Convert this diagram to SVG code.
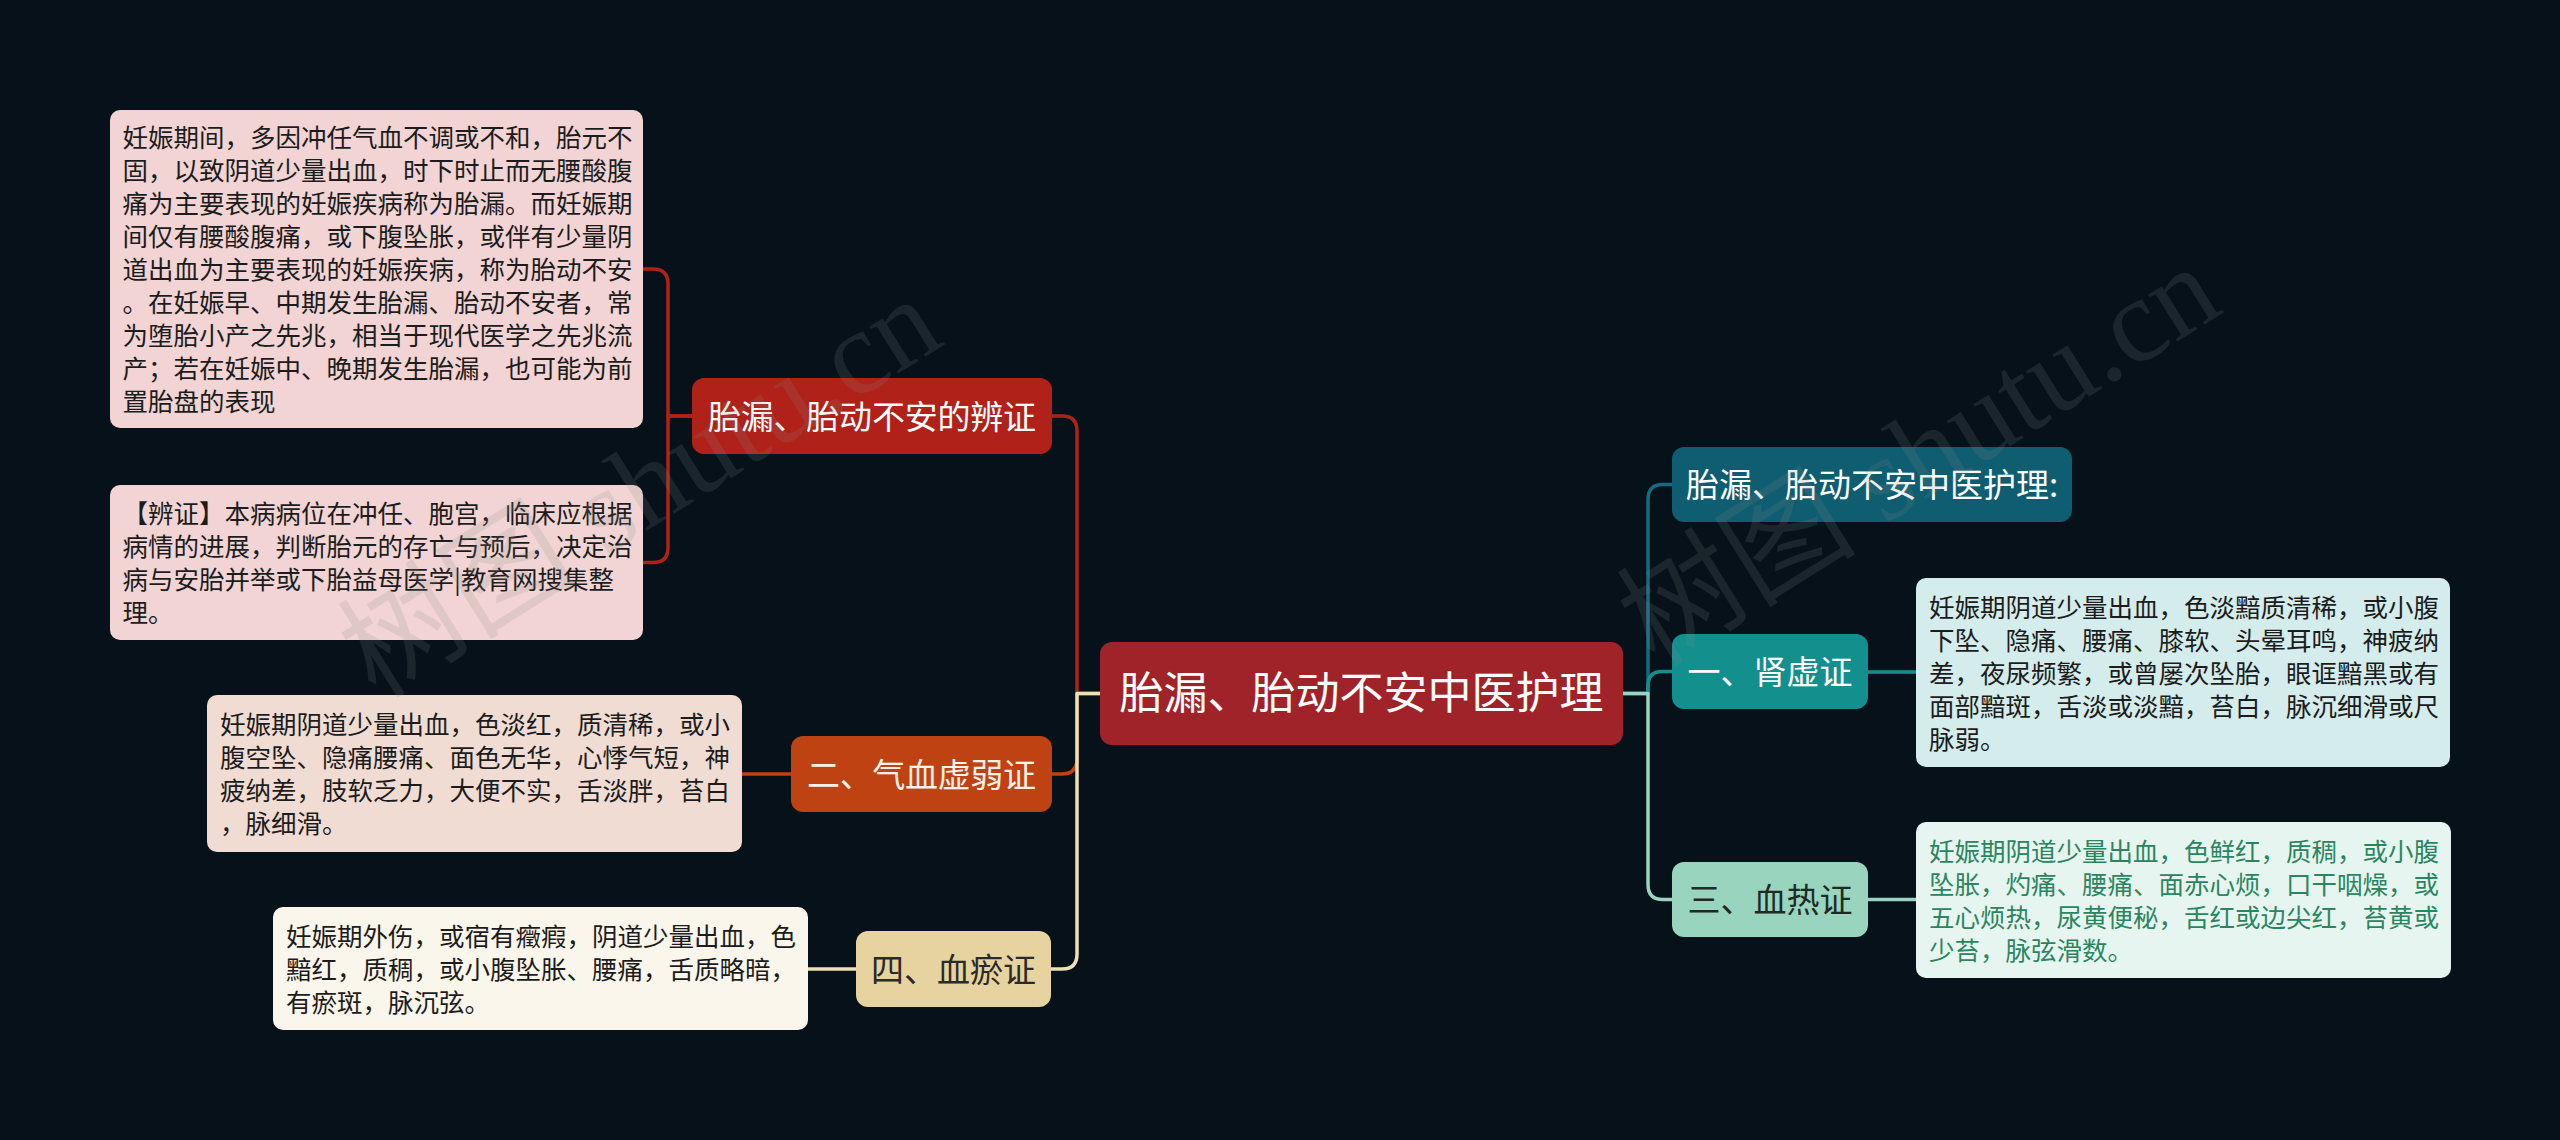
<svg xmlns="http://www.w3.org/2000/svg" width="2560" height="1140" viewBox="0 0 2560 1140">
<style>
.t{font-family:"Noto Sans CJK SC","Liberation Sans",sans-serif;}
.body{font-size:25.5px;fill:#1c1c1c;}
.l1{font-size:33px;text-anchor:middle;}
.w{fill:#ffffff;}
.k{fill:#2a2a2a;}
.c{fill:none;stroke-width:3.5;stroke-linejoin:round;stroke-linecap:round;}
.wm{font-family:"Liberation Serif","Noto Sans CJK SC",serif;font-size:120px;fill:#8a8a8a;fill-opacity:0.17;}
</style>
<rect width="2560" height="1140" fill="#06111a"/>

<g id="connectors">
  <path class="c" stroke="#b02219" d="M1100,693.5 H1077 V431 Q1077,416 1062,416 H1052"/>
  <path class="c" stroke="#be4212" d="M1100,693.5 H1077 V759 Q1077,774 1062,774 H1052"/>
  <path class="c" stroke="#eee0b4" d="M1100,693.5 H1077 V954 Q1077,969 1062,969 H1051"/>
  <path class="c" stroke="#b02219" d="M692,416 H668 V284 Q668,269 653,269 H643"/>
  <path class="c" stroke="#b02219" d="M692,416 H668 V547.5 Q668,562.5 653,562.5 H643"/>
  <path class="c" stroke="#be4212" d="M791,774 H742"/>
  <path class="c" stroke="#eee0b4" d="M856,969 H808"/>
  <path class="c" stroke="#156b80" d="M1623,693.5 H1648 V499.5 Q1648,484.5 1663,484.5 H1672"/>
  <path class="c" stroke="#13908e" d="M1623,693.5 H1648 V686 Q1648,671.5 1662,671.5 H1672"/>
  <path class="c" stroke="#98d4be" d="M1623,693.5 H1648 V884.5 Q1648,899.5 1663,899.5 H1672"/>
  <path class="c" stroke="#13908e" d="M1868,672 H1916"/>
  <path class="c" stroke="#98d4be" d="M1868,899.5 H1916"/>
</g>

<g id="central">
  <rect x="1100" y="642" width="523" height="103" rx="12" fill="#a0232a"/>
  <text class="t w" x="1361.5" y="709" font-size="44" text-anchor="middle">胎漏、胎动不安中医护理</text>
</g>

<g id="n-bianzheng">
  <rect x="692" y="378" width="360" height="76" rx="12" fill="#b02219"/>
  <text class="t l1 w" x="872" y="428.5" textLength="328" lengthAdjust="spacing">胎漏、胎动不安的辨证</text>
</g>
<g id="t-bianzheng-1">
  <rect x="110" y="110" width="533" height="318" rx="10" fill="#f1d4d3"/>
  <text class="t body" x="122.5" y="147">
    <tspan x="122.5">妊娠期间，多因冲任气血不调或不和，胎元不</tspan>
    <tspan x="122.5" dy="33">固，以致阴道少量出血，时下时止而无腰酸腹</tspan>
    <tspan x="122.5" dy="33">痛为主要表现的妊娠疾病称为胎漏。而妊娠期</tspan>
    <tspan x="122.5" dy="33">间仅有腰酸腹痛，或下腹坠胀，或伴有少量阴</tspan>
    <tspan x="122.5" dy="33">道出血为主要表现的妊娠疾病，称为胎动不安</tspan>
    <tspan x="122.5" dy="33">。在妊娠早、中期发生胎漏、胎动不安者，常</tspan>
    <tspan x="122.5" dy="33">为堕胎小产之先兆，相当于现代医学之先兆流</tspan>
    <tspan x="122.5" dy="33">产；若在妊娠中、晚期发生胎漏，也可能为前</tspan>
    <tspan x="122.5" dy="33">置胎盘的表现</tspan>
  </text>
</g>
<g id="t-bianzheng-2">
  <rect x="110" y="485" width="533" height="155" rx="10" fill="#f1d4d3"/>
  <text class="t body" x="122.5" y="523">
    <tspan x="122.5">【辨证】本病病位在冲任、胞宫，临床应根据</tspan>
    <tspan x="122.5" dy="33">病情的进展，判断胎元的存亡与预后，决定治</tspan>
    <tspan x="122.5" dy="33">病与安胎并举或下胎益母医学|教育网搜集整</tspan>
    <tspan x="122.5" dy="33">理。</tspan>
  </text>
</g>

<g id="n-qixue">
  <rect x="791" y="736" width="261" height="76" rx="12" fill="#be4212"/>
  <text class="t l1" x="921.5" y="786.5" fill="#fdf1ea" textLength="229" lengthAdjust="spacing">二、气血虚弱证</text>
</g>
<g id="t-qixue">
  <rect x="207" y="695" width="535" height="157" rx="10" fill="#f0dcd3"/>
  <text class="t body" x="220" y="734">
    <tspan x="220">妊娠期阴道少量出血，色淡红，质清稀，或小</tspan>
    <tspan x="220" dy="33">腹空坠、隐痛腰痛、面色无华，心悸气短，神</tspan>
    <tspan x="220" dy="33">疲纳差，肢软乏力，大便不实，舌淡胖，苔白</tspan>
    <tspan x="220" dy="33">，脉细滑。</tspan>
  </text>
</g>

<g id="n-xueyu">
  <rect x="856" y="931" width="195" height="76" rx="12" fill="#e6d39f"/>
  <text class="t l1 k" x="953.5" y="981.5">四、血瘀证</text>
</g>
<g id="t-xueyu">
  <rect x="273" y="907" width="535" height="123" rx="10" fill="#fbf6ec"/>
  <text class="t body" x="286" y="945.5">
    <tspan x="286">妊娠期外伤，或宿有癥瘕，阴道少量出血，色</tspan>
    <tspan x="286" dy="33">黯红，质稠，或小腹坠胀、腰痛，舌质略暗，</tspan>
    <tspan x="286" dy="33">有瘀斑，脉沉弦。</tspan>
  </text>
</g>

<g id="n-huli">
  <rect x="1672" y="447" width="400" height="75" rx="12" fill="#0f5d70"/>
  <text class="t l1 w" x="1872" y="497">胎漏、胎动不安中医护理:</text>
</g>

<g id="n-shenxu">
  <rect x="1672" y="634" width="196" height="75" rx="12" fill="#13908e"/>
  <text class="t l1 w" x="1770" y="684">一、肾虚证</text>
</g>
<g id="t-shenxu">
  <rect x="1916" y="578" width="534" height="189" rx="10" fill="#d4ecec"/>
  <text class="t body" x="1929" y="616.5">
    <tspan x="1929">妊娠期阴道少量出血，色淡黯质清稀，或小腹</tspan>
    <tspan x="1929" dy="33">下坠、隐痛、腰痛、膝软、头晕耳鸣，神疲纳</tspan>
    <tspan x="1929" dy="33">差，夜尿频繁，或曾屡次坠胎，眼诓黯黑或有</tspan>
    <tspan x="1929" dy="33">面部黯斑，舌淡或淡黯，苔白，脉沉细滑或尺</tspan>
    <tspan x="1929" dy="33">脉弱。</tspan>
  </text>
</g>

<g id="n-xuere">
  <rect x="1672" y="862" width="196" height="75" rx="12" fill="#98d4be"/>
  <text class="t l1" x="1770" y="912" fill="#1e2a25">三、血热证</text>
</g>
<g id="t-xuere">
  <rect x="1916" y="822" width="535" height="156" rx="10" fill="#e7f5f0"/>
  <text class="t body" x="1929" y="860.5" style="fill:#2b8560">
    <tspan x="1929">妊娠期阴道少量出血，色鲜红，质稠，或小腹</tspan>
    <tspan x="1929" dy="33">坠胀，灼痛、腰痛、面赤心烦，口干咽燥，或</tspan>
    <tspan x="1929" dy="33">五心烦热，尿黄便秘，舌红或边尖红，苔黄或</tspan>
    <tspan x="1929" dy="33">少苔，脉弦滑数。</tspan>
  </text>
</g>

<g id="watermarks">
  <text class="wm" transform="translate(376,700) rotate(-32)">树图 shutu.cn</text>
  <text class="wm" transform="translate(1655,668) rotate(-32)">树图 shutu.cn</text>
</g>
</svg>
